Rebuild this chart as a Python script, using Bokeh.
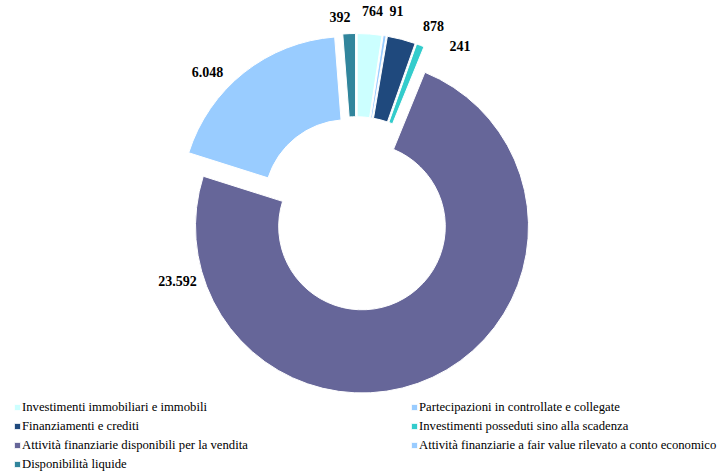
import numpy as np
from bokeh.plotting import figure
from bokeh.models import ColumnDataSource, Range1d, Legend, LegendItem
from bokeh.core.properties import value
from bokeh.embed import file_html
from bokeh.resources import INLINE

# ---- data ----
categories = [
    "Investimenti immobiliari e immobili",
    "Partecipazioni in controllate e collegate",
    "Finanziamenti e crediti",
    "Investimenti posseduti sino alla scadenza",
    "Attività finanziarie disponibili per la vendita",
    "Attività finanziarie a fair value rilevato a conto economico",
    "Disponibilità liquide",
]
values = [764, 91, 878, 241, 23592, 6048, 392]
colors = ["#CCFFFF", "#99CCFF", "#1F497D", "#33CCCC", "#666699", "#99CCFF", "#31859C"]

# ---- layout (screen pixels) ----
W, H = 722, 475
CX, CY = 355.6, 213.4
R_OUT, R_IN = 166.5, 83.3
EXPLODE = 13.9
label_pos_x = [372, 396, 433, 459.5, 177, 207, 339.5]
label_pos_y = [10, 10, 25.6, 45.3, 280.7, 71.7, 16.6]  # baselines

vals = np.array(values, dtype=float)
cum = np.concatenate([[0.0], np.cumsum(vals / vals.sum())]) * 2 * np.pi
t1, t2 = cum[:-1], cum[1:]
mid = (t1 + t2) / 2

labels = [f"{v:,}".replace(",", ".") for v in values]

src = ColumnDataSource(dict(
    x=CX + EXPLODE * np.sin(mid),
    y=(H - CY) + EXPLODE * np.cos(mid),
    start=np.pi / 2 - t2,
    end=np.pi / 2 - t1,
    color=colors,
    cat=categories,
))
lsrc = ColumnDataSource(dict(
    x=label_pos_x,
    y=[H - v for v in label_pos_y],
    text=labels,
))

p = figure(width=W, height=H, x_range=Range1d(0, W), y_range=Range1d(0, H),
           output_backend="svg", toolbar_location=None,
           x_axis_location=None, y_axis_location=None, min_border=0)
p.grid.visible = False
p.outline_line_color = None
p.background_fill_color = "white"
p.border_fill_color = "white"

r = p.annular_wedge(x="x", y="y", inner_radius=R_IN, outer_radius=R_OUT,
                    start_angle="start", end_angle="end",
                    fill_color="color", line_color="white", line_width=1,
                    source=src)

p.text(x="x", y="y", text="text", source=lsrc,
       text_font=value("Liberation Serif"), text_font_style="bold",
       text_font_size="14px", text_align="center", text_baseline="alphabetic",
       text_color="black")

def make_legend(idx, loc):
    return Legend(
        items=[LegendItem(label=categories[i], renderers=[r], index=i) for i in idx],
        location=loc, orientation="vertical",
        glyph_width=8, glyph_height=8, label_standoff=1, label_height=16,
        spacing=3, padding=0, margin=0,
        border_line_color=None, background_fill_alpha=0,
        label_text_font="Liberation Serif", label_text_font_size="12.7px",
        label_text_color="black",
    )

p.add_layout(make_legend([0, 2, 4, 6], (13, 3)))
p.add_layout(make_legend([1, 3, 5], (410, 22)))

open("out.html", "w").write(file_html(p, INLINE))
